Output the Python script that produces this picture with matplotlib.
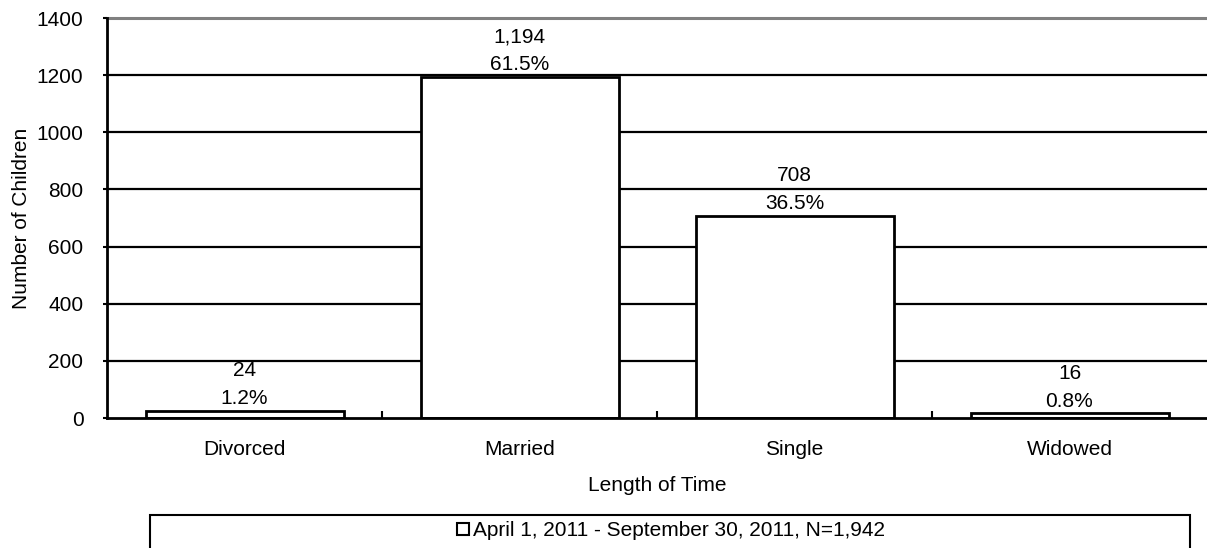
import matplotlib.pyplot as plt
from matplotlib.lines import Line2D
from matplotlib.patches import Rectangle
from matplotlib.ticker import FixedLocator

categories = ["Divorced", "Married", "Single", "Widowed"]
counts = [24, 1194, 708, 16]
percents = ["1.2%", "61.5%", "36.5%", "0.8%"]
yticks = [0, 200, 400, 600, 800, 1000, 1200, 1400]
legend_label = "April 1, 2011 - September 30, 2011, N=1,942"

plt.rcParams["font.family"] = ["Liberation Sans", "DejaVu Sans"]
plt.rcParams["font.size"] = 15

fig = plt.figure(figsize=(12.07, 5.48), dpi=100)
ax = fig.add_axes([107 / 1207, 130 / 548, 1100 / 1207, 400 / 548])

x = list(range(len(categories)))
ax.bar(x, counts, width=0.72, color="white", edgecolor="black", linewidth=2, zorder=3)

ax.set_xlim(-0.5, len(categories) - 0.5)
ax.set_ylim(0, 1400)
ax.set_yticks(yticks)
ax.set_yticklabels([str(v) for v in yticks])
for v in yticks[1:-1]:
    ax.axhline(v, color="black", linewidth=1.6, zorder=1)
ax.axhline(1400, color="#808080", linewidth=2.2, zorder=1, clip_on=False)

ax.set_xticks(x)
ax.set_xticklabels(categories)
ax.tick_params(axis="x", which="major", length=0, pad=16)
ax.xaxis.set_minor_locator(FixedLocator([0.5, 1.5, 2.5]))
ax.tick_params(axis="x", which="minor", direction="in", length=5, width=1.5)
ax.tick_params(axis="y", length=3, width=1.5, pad=14)

for side in ["top", "right"]:
    ax.spines[side].set_visible(False)
ax.spines["left"].set_linewidth(2)
ax.spines["bottom"].set_linewidth(2)
ax.spines["bottom"].set_zorder(4)

for xi, c, p in zip(x, counts, percents):
    ax.annotate(f"{c:,}\n{p}", (xi, c), xytext=(0, 2), textcoords="offset points",
                ha="center", va="bottom", linespacing=1.6)

ax.set_xlabel("Length of Time", labelpad=12)
ax.set_ylabel("Number of Children", labelpad=4)

# legend box spanning most of the width, cut by the bottom edge
fig.patches.append(Rectangle((150 / 1207, -0.05), 1040 / 1207, 0.05 + 33 / 548,
                             transform=fig.transFigure, facecolor="white",
                             edgecolor="black", linewidth=1.5))
handle = Line2D([], [], marker="s", linestyle="none", markersize=8,
                markerfacecolor="white", markeredgecolor="black", markeredgewidth=1.5)
fig.legend([handle], [legend_label], loc="center", bbox_to_anchor=(670 / 1207, 17 / 548),
           frameon=False, handletextpad=0.1, handlelength=0.8, borderpad=0)

fig.savefig("out.png", dpi=100)
